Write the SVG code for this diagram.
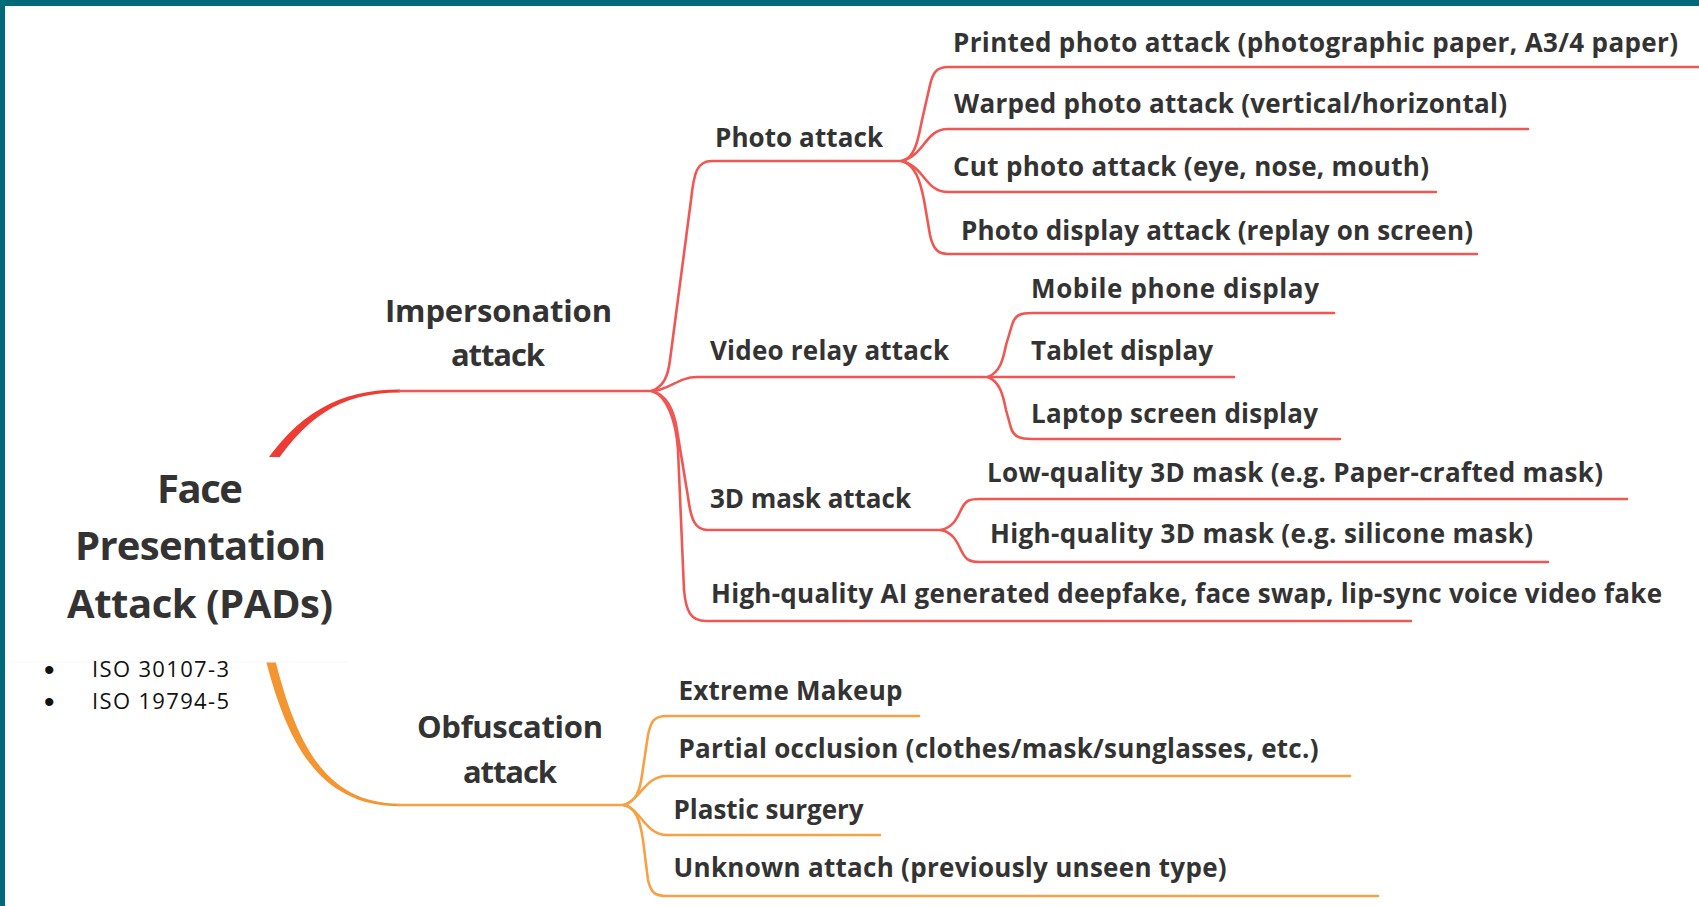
<svg xmlns="http://www.w3.org/2000/svg" width="1699" height="906" viewBox="0 0 1699 906">
<defs>
<style>
.red{fill:none;stroke:#F05752;stroke-width:2.6;stroke-linecap:round;stroke-linejoin:round}
.org{fill:none;stroke:#F7A145;stroke-width:2.6;stroke-linecap:round;stroke-linejoin:round}
.t{font-family:"Open Sans","Noto Sans","Liberation Sans",sans-serif;font-weight:700;fill:#333333}
.leaf{font-size:26px}
.mid{font-size:31px}
.root{font-size:40px}
.iso{font-family:"Open Sans","Noto Sans","Liberation Sans",sans-serif;font-size:22px;fill:#111111}
.bul{font-family:"Liberation Sans",sans-serif;font-size:30px;fill:#111111}
</style>
</defs>
<rect x="0" y="0" width="1699" height="906" fill="#ffffff"/>
<rect x="0" y="0" width="1699" height="6" fill="#006A78"/>
<rect x="0" y="0" width="5" height="906" fill="#006A78"/>

<g id="connectors">
<path d="M258,473 C297,412 340,389.5 400,389.5 L400,392.5 C340,392.5 303,417 266,478 Z" fill="#EE3B33"/>
<path d="M272.5,649 C294,738 322,803.7 400,803.7 L400,806.3 C318,806.3 286,742 263.5,651 Z" fill="#F39632"/>
<path class="red" d="M399,391 L652,391"/>
<path class="red" d="M652,391 C664,386 668,376 670,360 L691,200 C694,172 697,161 712,161 L904,161"/>
<path class="red" d="M652,391 C668,391 678,377 697,377 L1234,377"/>
<path class="red" d="M652,391 C667,395 674,410 677,430 L688,497 C691,520 695,530 708,530 L941,530"/>
<path class="red" d="M652,391 C667,396 676,420 678,450 L684,590 C686,612 691,621 706,621 L1411,621"/>
<path class="red" d="M902,161 C915,158 918,140 922,120 L930,85 C933,72 937,67 948,67 L1699,67"/>
<path class="red" d="M902,161 C925,155 925,129 948,129 L1528,129"/>
<path class="red" d="M902,161 C925,167 925,192 948,192 L1436,192"/>
<path class="red" d="M902,161 C915,165 920,180 924,200 L930,235 C933,249 938,254 948,254 L1477,254"/>
<path class="red" d="M988,377 C1000,372 1003,360 1006,345 L1012,325 C1015,315 1020,313 1032,313 L1334,313"/>
<path class="red" d="M988,377 C1000,382 1003,395 1006,410 L1011,428 C1014,437 1020,439 1032,439 L1340,439"/>
<path class="red" d="M941,530 C955,527 958,515 962,508 C966,500 970,499 980,499 L1627,499"/>
<path class="red" d="M941,530 C955,533 958,545 962,552 C966,560 970,562 980,562 L1548,562"/>
<path class="org" d="M399,805 L624,805"/>
<path class="org" d="M624,805 C636,802 640,790 642,775 L648,735 C651,720 655,716 667,716 L919,716"/>
<path class="org" d="M624,805 C640,800 645,776 667,776 L1350,776"/>
<path class="org" d="M624,805 C640,808 645,835 667,835 L880,835"/>
<path class="org" d="M624,805 C636,808 640,820 643,840 L648,880 C651,893 655,896 667,896 L1378,896"/>
</g>

<g id="root">
<rect x="5" y="457" width="342" height="205" fill="#ffffff"/>
<line x1="5" y1="662" x2="347" y2="662" stroke="#f6f6f6" stroke-width="1"/>
<text class="t root" x="200" y="503" text-anchor="middle" textLength="86">Face</text>
<text class="t root" x="200.5" y="560" text-anchor="middle" textLength="251">Presentation</text>
<text class="t root" x="200" y="618" text-anchor="middle" textLength="266">Attack (PADs)</text>
<text class="bul" x="44" y="680">•</text>
<text class="iso" x="92" y="677" textLength="137">ISO 30107-3</text>
<text class="bul" x="44" y="712">•</text>
<text class="iso" x="92" y="709" textLength="137">ISO 19794-5</text>
</g>

<g id="impersonation">
<text class="t mid" x="498.5" y="322" text-anchor="middle" textLength="227">Impersonation</text>
<text class="t mid" x="498" y="366" text-anchor="middle" textLength="94">attack</text>
</g>
<g id="obfuscation">
<text class="t mid" x="510" y="738" text-anchor="middle" textLength="186">Obfuscation</text>
<text class="t mid" x="510" y="783" text-anchor="middle" textLength="94">attack</text>
</g>

<g id="photo-attack"><text class="t leaf" x="715" y="147" textLength="168">Photo attack</text></g>
<g id="printed-photo"><text class="t leaf" x="953" y="52" textLength="725">Printed photo attack (photographic paper, A3/4 paper)</text></g>
<g id="warped-photo"><text class="t leaf" x="954" y="113" textLength="553">Warped photo attack (vertical/horizontal)</text></g>
<g id="cut-photo"><text class="t leaf" x="953" y="176" textLength="476">Cut photo attack (eye, nose, mouth)</text></g>
<g id="photo-display"><text class="t leaf" x="961" y="240" textLength="512">Photo display attack (replay on screen)</text></g>

<g id="video-relay"><text class="t leaf" x="710" y="360" textLength="239">Video relay attack</text></g>
<g id="mobile-phone"><text class="t leaf" x="1031" y="298" textLength="288">Mobile phone display</text></g>
<g id="tablet"><text class="t leaf" x="1031" y="360" textLength="182">Tablet display</text></g>
<g id="laptop"><text class="t leaf" x="1031" y="423" textLength="287">Laptop screen display</text></g>

<g id="mask-3d"><text class="t leaf" x="710" y="508" textLength="201">3D mask attack</text></g>
<g id="low-quality-mask"><text class="t leaf" x="987" y="482" textLength="616">Low-quality 3D mask (e.g. Paper-crafted mask)</text></g>
<g id="high-quality-mask"><text class="t leaf" x="990" y="543" textLength="543">High-quality 3D mask (e.g. silicone mask)</text></g>

<g id="deepfake"><text class="t leaf" x="711" y="603" textLength="951">High-quality AI generated deepfake, face swap, lip-sync voice video fake</text></g>

<g id="extreme-makeup"><text class="t leaf" x="678.5" y="700" textLength="224">Extreme Makeup</text></g>
<g id="partial-occlusion"><text class="t leaf" x="678.5" y="758" textLength="640">Partial occlusion (clothes/mask/sunglasses, etc.)</text></g>
<g id="plastic-surgery"><text class="t leaf" x="673.6" y="819" textLength="190">Plastic surgery</text></g>
<g id="unknown-attach"><text class="t leaf" x="673.6" y="877" textLength="553">Unknown attach (previously unseen type)</text></g>
</svg>
